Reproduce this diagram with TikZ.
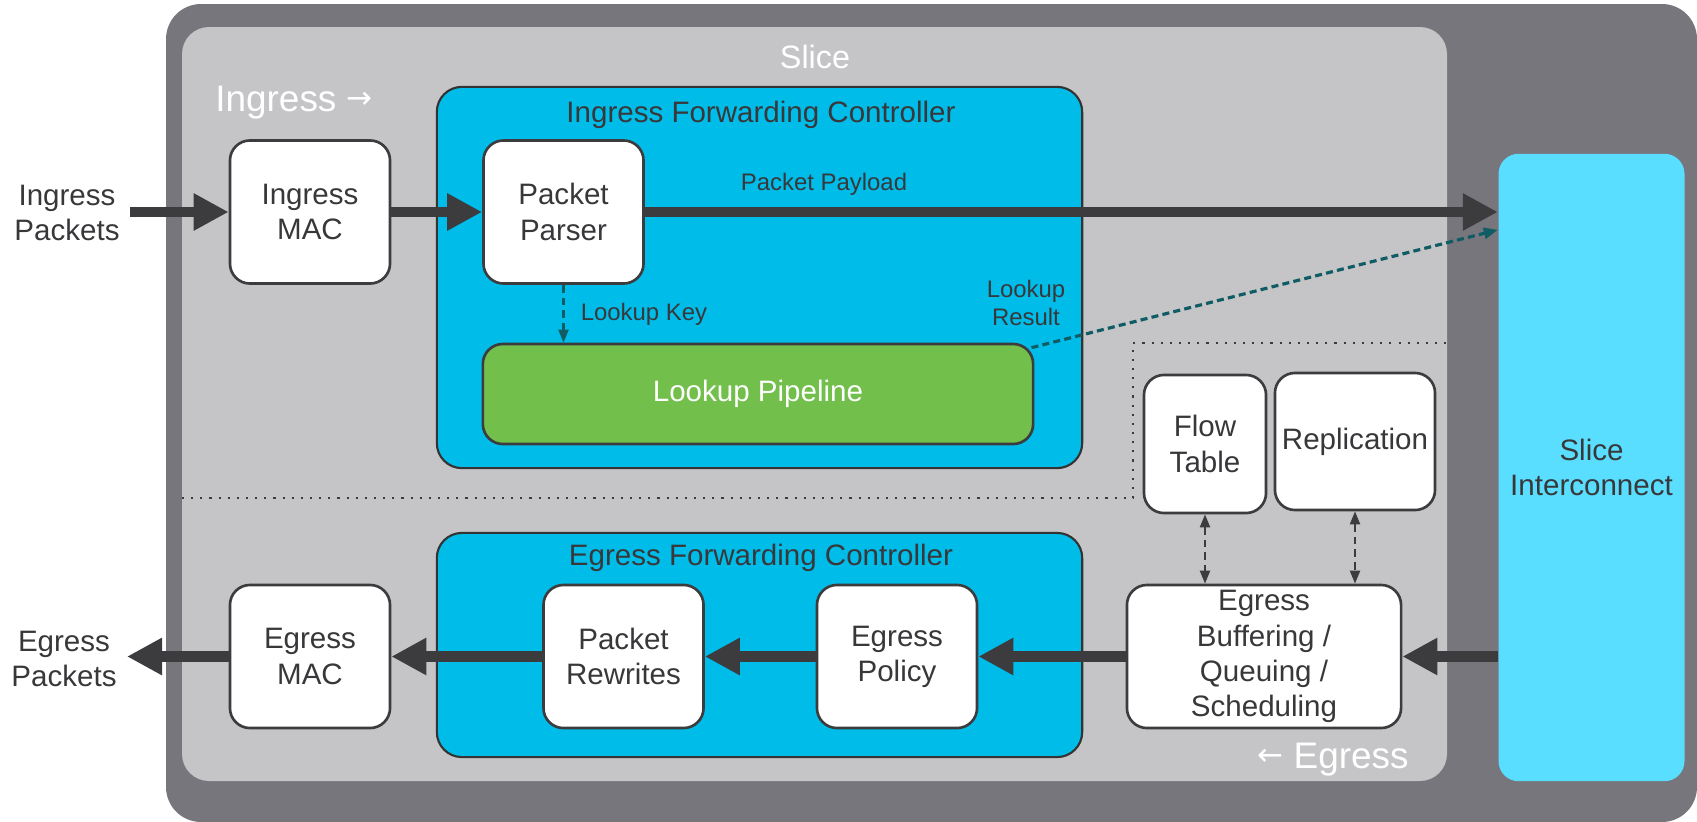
\documentclass[tikz,border=0pt]{standalone}
\usepackage{fontspec}
\setmainfont{Liberation Sans}
\newfontfamily\arrowfont{DejaVu Sans}
\usetikzlibrary{arrows.meta, positioning}

\definecolor{outergray}{HTML}{77767C}
\definecolor{slicegray}{HTML}{C5C5C7}
\definecolor{fccyan}{HTML}{00BCE8}
\definecolor{sicyan}{HTML}{59DEFF}
\definecolor{pipegreen}{HTML}{72BF4C}
\definecolor{darkline}{HTML}{3C3C3F}
\definecolor{textgray}{HTML}{38383B}
\definecolor{lookupteal}{HTML}{0F5C64}

\newcommand{\dirarrow}[1]{{\arrowfont\fontsize{8.8}{10}\selectfont\raisebox{1pt}{#1}}}

\tikzset{
  boxfont/.style={font=\fontsize{8.4}{10}\selectfont},
  blockbox/.style={draw=darkline, line width=0.75pt, fill=white, rounded corners=0.2cm,
    align=center, text=textgray, inner sep=0pt, boxfont},
  blocksize/.style={minimum width=1.6cm, minimum height=1.43cm},
  ctrlbox/.style={draw=black!80, line width=0.6pt, fill=fccyan, rounded corners=0.25cm},
  ctrltitle/.style={text=textgray, boxfont},
  smalllabel/.style={text=textgray, align=center, font=\fontsize{6.8}{8.2}\selectfont},
  whitelabel/.style={text=white, inner sep=0pt},
  biglabel/.style={font=\fontsize{10.5}{12}\selectfont},
  bigarrow/.style={draw=darkline, line width=3.1pt, -{Triangle[length=0.35cm,width=0.35cm]}},
  keyarrow/.style={draw=lookupteal, line width=0.6pt, dash pattern=on 2.2pt off 1.4pt,
    -{Triangle[length=0.13cm,width=0.1cm]}},
  resultarrow/.style={draw=lookupteal, line width=0.9pt, dash pattern=on 2pt off 1.2pt,
    -{Triangle[length=0.14cm,width=0.11cm]}},
  sharearrow/.style={draw=darkline, line width=0.6pt, dash pattern=on 2.2pt off 1.4pt,
    {Triangle[length=0.13cm,width=0.1cm]}-{Triangle[length=0.13cm,width=0.1cm]}},
  sepline/.style={draw=darkline, line width=0.6pt, dotted}
}

\begin{document}
\begin{tikzpicture}[x=0.01cm, y=-0.01cm]
  \useasboundingbox (0,0) rectangle (1697,821);

  % frame and slice
  \fill[outergray, rounded corners=0.35cm] (166,4) rectangle (1697,822);
  \fill[slicegray, rounded corners=0.27cm] (182,27) rectangle (1447,781);
  \draw[sepline] (182,498) -- (1133,498) -- (1133,343) -- (1447,343);
  \node[whitelabel, font=\fontsize{9.2}{11}\selectfont] (slicelbl) at (815,57) {Slice};
  \node[whitelabel, biglabel] (inlbl) at (294,103) {Ingress \dirarrow{→}};
  \node[whitelabel, biglabel] (eglbl) at (1333,760) {\dirarrow{←} Egress};

  % forwarding controllers
  \node[ctrlbox, minimum width=6.45cm, minimum height=3.81cm] (ifc) at (759.5,277.5) {};
  \node[ctrltitle] (ifctitle) at (761,115) {Ingress Forwarding Controller};
  \node[ctrlbox, minimum width=6.45cm, minimum height=2.24cm] (efc) at (759.5,645) {};
  \node[ctrltitle] (efctitle) at (761,558) {Egress Forwarding Controller};

  % ingress path
  \node[blockbox, blocksize] (imac) at (310,212) {Ingress\\MAC};
  \node[blockbox, blocksize] (parser) at (563.5,212) {Packet\\Parser};
  \node[blockbox, fill=pipegreen, text=white, minimum width=5.5cm, minimum height=1cm]
    (pipe) at (758,394) {Lookup Pipeline};

  % slice interconnect
  \node[fill=sicyan, rounded corners=0.2cm, minimum width=1.77cm, minimum height=6.27cm,
    align=center, text=textgray, boxfont] (si) at (1591.5,467.5) {Slice\\Interconnect};

  % egress path
  \node[blockbox, minimum width=1.22cm, minimum height=1.38cm] (flow) at (1205,444) {Flow\\Table};
  \node[blockbox, minimum width=1.6cm, minimum height=1.37cm] (repl) at (1355,441.5) {Replication};
  \node[blockbox, minimum width=2.74cm, minimum height=1.43cm] (ebuf) at (1264,656.5)
    {Egress\\Buffering /\\Queuing /\\Scheduling};
  \node[blockbox, blocksize] (epol) at (897,656.5) {Egress\\Policy};
  \node[blockbox, blocksize] (rewr) at (623.5,656.5) {Packet\\Rewrites};
  \node[blockbox, blocksize] (emac) at (310,656.5) {Egress\\MAC};

  % outside
  \node[align=center, text=textgray, boxfont] (intext) at (67,213) {Ingress\\Packets};
  \node[align=center, text=textgray, boxfont] (egtext) at (64,659) {Egress\\Packets};
  \coordinate (inpkt) at (130,212);
  \coordinate (outpkt) at (127,656.5);

  % labels
  \node[smalllabel] (payload) at (824,184) {Packet Payload};
  \node[smalllabel] (lkey) at (644,314) {Lookup Key};
  \node[smalllabel] (lresult) at (1026,303) {Lookup\\Result};

  % connectors
  \draw[bigarrow] (inpkt) -- (imac.west);
  \draw[bigarrow] (imac.east) -- (parser.west);
  \draw[bigarrow] (parser.east) -- (parser.east -| si.west);
  \draw[keyarrow] (parser.south) -- (pipe.north -| parser.south);
  \draw[resultarrow] ([xshift=-0.03cm, yshift=-0.05cm]pipe.north east) -- ([yshift=2.375cm]si.west);
  \draw[bigarrow] (si.west |- ebuf.east) -- (ebuf.east);
  \draw[bigarrow] (ebuf.west) -- (epol.east);
  \draw[bigarrow] (epol.west) -- (rewr.east);
  \draw[bigarrow] (rewr.west) -- (emac.east);
  \draw[bigarrow] (emac.west) -- (outpkt);
  \draw[sharearrow] (flow.south) -- (flow.south |- ebuf.north);
  \draw[sharearrow] (repl.south) -- (repl.south |- ebuf.north);
\end{tikzpicture}
\end{document}
